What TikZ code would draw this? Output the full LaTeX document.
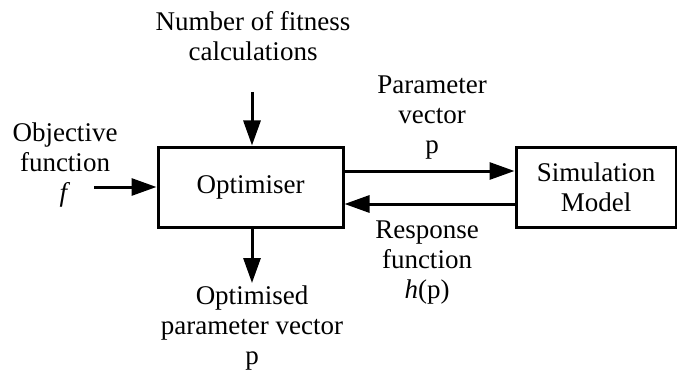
\documentclass[tikz,border=0pt]{standalone}
\usepackage{fontspec}
\setmainfont{Liberation Serif}
\usetikzlibrary{arrows.meta}
\begin{document}
\begin{tikzpicture}[
            x=1pt, y=-1pt,
            bloco/.style={shape=rectangle, draw=black, line width=3pt, inner sep=0pt, font=\fontsize{27}{30}\selectfont, align=center},
            rotulo/.style={align=center, inner sep=0pt, font=\fontsize{27}{30}\selectfont},
            seta/.style={line width=3pt, -{Triangle[length=25pt,width=17pt]}},
        ]
        \useasboundingbox (0,0) rectangle (677,377);
        \node[bloco, minimum width=185pt, minimum height=80pt] (opt) at (250.5, 187) {Optimiser};
        \node[bloco, minimum width=160pt, minimum height=80pt] (sim) at (596, 187) {Simulation\\Model};
        \node[rotulo] (num) at (253, 36) {Number of fitness\\calculations};
        \node[rotulo] (obj) at (65, 165) {Objective\\function\\\textit{f}};
        \node[rotulo] (par) at (432, 118) {Parameter\\vector\\p};
        \node[rotulo] (resp) at (427, 263) {Response\\function\\\textit{h}(p)};
        \node[rotulo] (optd) at (252, 328) {Optimised\\parameter vector\\p};

        \coordinate (numfim) at (252, 92);
        \coordinate (objfim) at (94, 187);
        \coordinate (optdfim) at (252, 283);

        \draw[seta] (numfim) -- (opt.north -| numfim);
        \draw[seta] (objfim) -- (opt.west |- objfim);
        \draw[seta] (opt.south -| optdfim) -- (optdfim);
        \draw[seta] ([yshift=16pt]opt.east) -- ([yshift=16pt]sim.west);
        \draw[seta] ([yshift=-17pt]sim.west) -- ([yshift=-17pt]opt.east);

    \end{tikzpicture}
\end{document}
